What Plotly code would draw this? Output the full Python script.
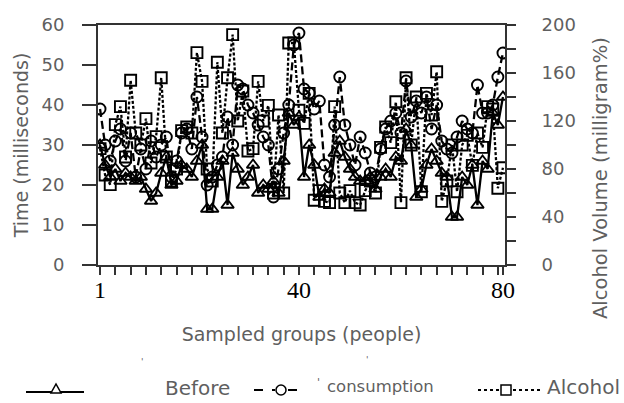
import plotly.graph_objects as go

W, H = 624, 403

groups = list(range(1, 81))

before = [30, 25, 22, 24, 21, 23, 22, 21, 22, 19,
          16, 18, 23, 27, 20, 21, 25, 24, 22, 26,
          30, 14, 14, 22, 26, 15, 28, 24, 20, 22,
          25, 18, 20, 19, 21, 18, 26, 38, 35, 37,
          22, 30, 25, 17, 19, 18, 28, 31, 27, 24,
          22, 21, 21, 22, 19, 22, 24, 22, 27, 26,
          34, 30, 17, 19, 25, 29, 26, 23, 22, 12,
          12, 22, 20, 25, 15, 26, 24, 38, 35, 42]

consumption = [39, 30, 26, 31, 34, 26, 33, 22, 29, 24,
               31, 27, 30, 32, 22, 26, 33, 34, 29, 42,
               32, 20, 22, 25, 27, 37, 30, 45, 44, 40,
               38, 35, 32, 30, 17, 24, 33, 40, 55, 58,
               44, 43, 39, 41, 25, 22, 35, 47, 35, 30,
               25, 32, 28, 23, 22, 29, 34, 36, 38, 33,
               46, 37, 41, 38, 42, 34, 40, 31, 29, 28,
               32, 36, 34, 33, 45, 38, 38, 40, 47, 53]

alcohol = [97, 75, 67, 117, 132, 90, 154, 110, 100, 122,
           85, 107, 156, 90, 70, 80, 112, 115, 110, 177,
           153, 80, 70, 169, 110, 156, 192, 120, 145, 95,
           97, 153, 120, 133, 60, 125, 60, 185, 185, 129,
           118, 143, 54, 62, 53, 52, 132, 60, 52, 62,
           52, 50, 62, 70, 60, 98, 115, 102, 136, 52,
           156, 100, 140, 61, 143, 125, 161, 53, 70, 100,
           61, 100, 108, 83, 110, 98, 132, 130, 64, 81]

x_tickvals = list(range(1, 80, 3)) + [80]
x_ticktext = ["1" if v == 1 else "40" if v == 40 else "80" if v == 80 else "" for v in x_tickvals]
left_ticks = [0, 10, 20, 30, 40, 50, 60]
right_tickvals = list(range(0, 201, 20))
right_ticktext = [str(v) if v % 40 == 0 else "" for v in right_tickvals]

# plot area in pixels
PL, PR, PT, PB = 98, 505, 25, 265

def px(x):
    return x / W

def py(y):
    return 1 - y / H

GRAY = "#5f5f5f"
SANS = "DejaVu Sans"

fig = go.Figure()
mk = dict(color="black", size=11, line=dict(color="black", width=1.9))
fig.add_trace(go.Scatter(x=groups, y=alcohol, yaxis="y2", mode="lines+markers",
                         line=dict(color="black", width=2.3, dash="3px,2px"),
                         marker=dict(symbol="square-open", **mk), name="Alcohol"))
fig.add_trace(go.Scatter(x=groups, y=consumption, mode="lines+markers",
                         line=dict(color="black", width=2.3, dash="8px,4px"),
                         marker=dict(symbol="circle-open", **mk), name="consumption"))
fig.add_trace(go.Scatter(x=groups, y=before, mode="lines+markers",
                         line=dict(color="black", width=2.3),
                         marker=dict(symbol="triangle-up-open", **mk), name="Before"))

fig.update_layout(
    width=W, height=H,
    margin=dict(l=0, r=0, t=0, b=0, autoexpand=False),
    paper_bgcolor="white", plot_bgcolor="white",
    showlegend=False,
    xaxis=dict(domain=[px(PL), px(PR)], range=[0.6, 80.4], automargin=False,
               tickvals=x_tickvals, ticktext=x_ticktext,
               ticks="outside", ticklen=8, tickwidth=1.5, tickcolor="#333",
               ticklabelstandoff=-6,
               showline=True, linecolor="#333", linewidth=2, mirror=True,
               showgrid=False, zeroline=False,
               tickfont=dict(family="Liberation Serif", size=24, color="black"),
               title=dict(text="Sampled groups (people)", standoff=26,
                          font=dict(family=SANS, size=19, color=GRAY))),
    yaxis=dict(domain=[py(PB), py(PT)], range=[0, 60], tickvals=left_ticks,
               automargin=False,
               ticks="outside", ticklen=14, tickwidth=1.5, tickcolor="#333",
               ticklabelstandoff=14,
               showline=True, linecolor="#333", linewidth=2,
               showgrid=False, zeroline=False,
               tickfont=dict(family=SANS, size=18, color=GRAY),
               title=dict(text="Time (milliseconds)", standoff=8,
                          font=dict(family=SANS, size=19, color=GRAY))),
    yaxis2=dict(overlaying="y", side="right", range=[0, 200], automargin=False,
                tickvals=right_tickvals, ticktext=right_ticktext,
                ticks="outside", ticklen=9, tickwidth=1.5, tickcolor="#333",
                ticklabelstandoff=22,
                showline=True, linecolor="#333", linewidth=2,
                showgrid=False, zeroline=False,
                tickfont=dict(family=SANS, size=18, color=GRAY)),
)

# right axis title (placed lower than the plot centre as in the reference)
fig.add_annotation(text="Alcohol Volume (milligram%)", xref="paper", yref="paper",
                   x=px(601), y=py(178), textangle=-90, showarrow=False,
                   xanchor="center", yanchor="middle",
                   font=dict(family=SANS, size=19.5, color=GRAY))

# manual legend (pixel positions converted to paper coordinates)
shapes = []
def seg(x0, x1, y, dash):
    shapes.append(dict(type="line", xref="paper", yref="paper",
                       x0=px(x0), x1=px(x1), y0=py(y), y1=py(y),
                       line=dict(color="black", width=2, dash=dash)))

seg(26, 84, 392, "solid")
shapes.append(dict(type="path", xref="paper", yref="paper",
                   path=f"M {px(51)} {py(393)} L {px(61)} {py(393)} L {px(56)} {py(384)} Z",
                   line=dict(color="black", width=1.5), fillcolor="white"))
seg(254, 275, 390, "dash")
seg(288, 306, 390, "dash")
shapes.append(dict(type="circle", xref="paper", yref="paper",
                   x0=px(276), x1=px(286), y0=py(395), y1=py(385),
                   line=dict(color="black", width=1.5), fillcolor="white"))
seg(478, 499, 390, "dot")
seg(513, 542, 390, "dot")
shapes.append(dict(type="rect", xref="paper", yref="paper",
                   x0=px(501), x1=px(511), y0=py(395), y1=py(385),
                   line=dict(color="black", width=1.5), fillcolor="white"))
fig.update_layout(shapes=shapes)

def note(text, x, y, size, color=GRAY, family=SANS):
    fig.add_annotation(text=text, xref="paper", yref="paper", x=px(x), y=py(y),
                       xanchor="left", yanchor="middle", showarrow=False,
                       font=dict(family=family, size=size, color=color))

note("Before", 163, 388, 20)
note("consumption", 325, 386, 16.5)
note("'", 315, 382, 11)
note("Alcohol", 545, 387, 20)
note("'", 139, 362, 9)
note("'", 364, 360, 9)

fig.write_html("out.html", config={"displayModeBar": False},
               post_script="document.body.style.margin='0';document.body.style.overflow='hidden';")
